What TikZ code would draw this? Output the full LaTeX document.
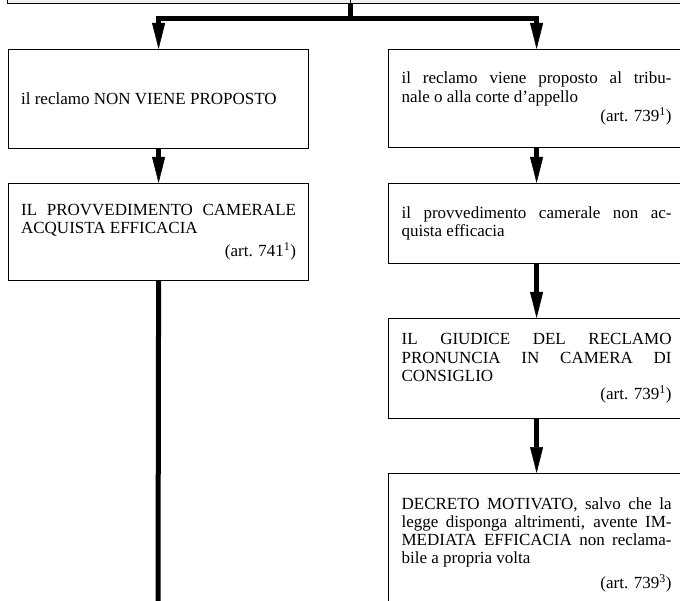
\documentclass[tikz,border=0pt]{standalone}
\usepackage{fontspec}
\setmainfont{Liberation Serif}
\usetikzlibrary{arrows.meta}
\newcommand{\artref}[1]{\par\noindent\makebox[\linewidth][r]{#1}}
\begin{document}
\begin{tikzpicture}[x=1pt,y=-1pt,
  every node/.style={font=\fontsize{17}{18.3}\selectfont},
  box/.style={draw, line width=1.2pt, anchor=north west, inner ysep=0pt, align=justify},
  lbox/.style={box, inner xsep=12.5pt, text width=275pt, minimum width=300pt},
  rbox/.style={box, inner xsep=13pt, text width=270pt, minimum width=296pt},
  stem/.style={line width=5pt},
  flow/.style={line width=5pt, -{Triangle[length=26pt,width=13pt,line width=0.5pt]}},
]
\useasboundingbox (0,0) rectangle (680,601);
\clip (0,0) rectangle (680,601);

\node[draw, fill=gray!12, line width=1pt, minimum width=686pt, minimum height=40pt, anchor=south] (top) at (350,4) {};
\draw[line width=0.8pt] (top.south) -- (top.north);

\node[lbox, minimum height=99pt] (L1) at (8,49) {il reclamo NON VIENE PROPOSTO};
\node[rbox, minimum height=98pt] (R1) at (388,49) {il reclamo viene proposto al tribu-\linebreak nale o alla corte d’appello\par\vspace{1pt}\artref{(art. 739\textsuperscript{1})}};

\node[lbox, minimum height=97pt] (L2) at (8,183) {IL PROVVEDIMENTO CAMERALE\linebreak ACQUISTA EFFICACIA\par\vspace{5pt}\artref{(art. 741\textsuperscript{1})}};
\node[rbox, minimum height=80pt] (R2) at (388,183) {il provvedimento camerale non ac-\linebreak quista efficacia};

\node[rbox, minimum height=100pt] (R3) at (388,318) {IL GIUDICE DEL RECLAMO\linebreak PRONUNCIA IN CAMERA DI\linebreak CONSIGLIO\artref{(art. 739\textsuperscript{1})}};

\node[rbox, minimum height=142pt] (R4) at (388,473) {DECRETO MOTIVATO, salvo che la\linebreak legge disponga altrimenti, avente IM-\linebreak MEDIATA EFFICACIA non reclama-\linebreak bile a propria volta\par\vspace{6pt}\artref{(art. 739\textsuperscript{3})}};

\coordinate (J) at (350,18.5);
\coordinate (Lend) at (158,610);

\draw[stem] (top.south) -- (J);
\draw[flow] (J) -| (L1.north);
\draw[flow] (J) -| (R1.north);
\draw[flow] (L1.south) -- (L2.north);
\draw[stem] (L2.south) -- (Lend);
\draw[flow] (R1.south) -- (R2.north);
\draw[flow] (R2.south) -- (R3.north);
\draw[flow] (R3.south) -- (R4.north);
\end{tikzpicture}
\end{document}
